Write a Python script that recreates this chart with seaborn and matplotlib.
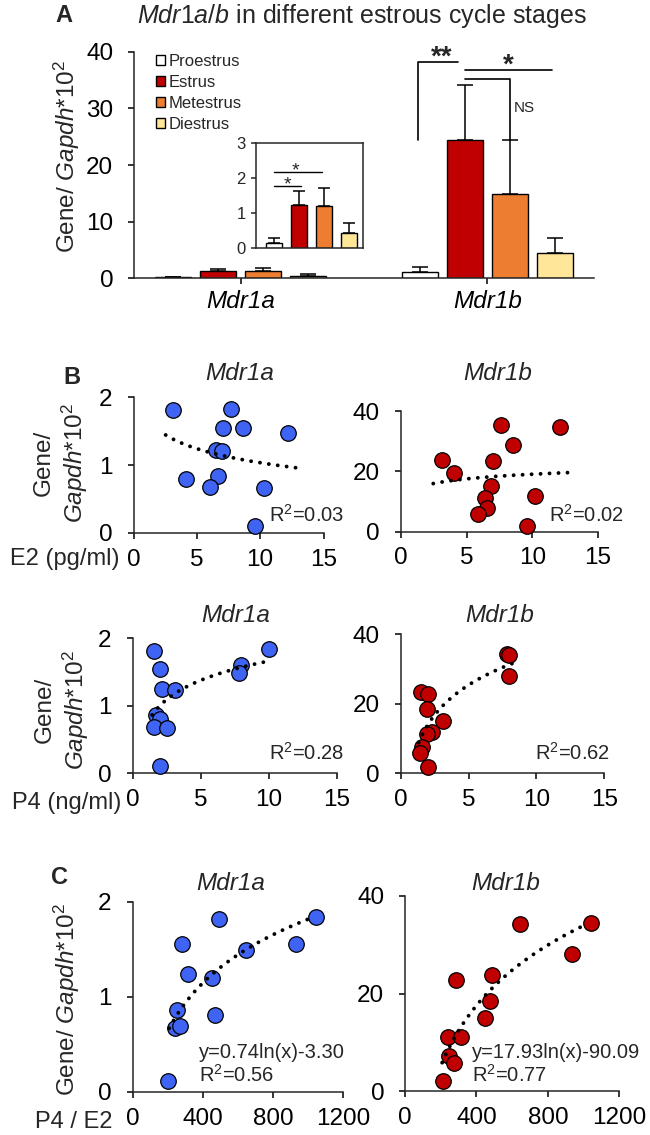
import numpy as np
import pandas as pd
import seaborn as sns
import matplotlib.pyplot as plt
from matplotlib import font_manager
from matplotlib.patches import Patch

# %%
# bar data, panel A (mean and upper SEM)
stages = ["Proestrus", "Estrus", "Metestrus", "Diestrus"]
genes = ["Mdr1a", "Mdr1b"]
stage_colors = ["#FFFFFF", "#C00000", "#ED7D31", "#FFE699"]
mdr1a_mean = [0.16, 1.24, 1.22, 0.45]
mdr1a_sem = [0.13, 0.40, 0.51, 0.28]
mdr1b_mean = [1.06, 24.5, 14.8, 4.5]
mdr1b_sem = [0.9, 9.6, 9.6, 2.7]

# panel B, E2 (pg/ml)
e2_a = [3.13, 7.66, 7.04, 8.67, 12.2, 6.52, 6.95, 4.17, 6.68, 6.06, 10.27, 9.62]
mdr1a_e2 = [1.81, 1.83, 1.54, 1.54, 1.48, 1.22, 1.20, 0.80, 0.84, 0.68, 0.66, 0.10]
e2_b = [3.11, 4.06, 7.61, 12.15, 8.56, 7.0, 6.85, 6.44, 6.53, 5.9, 10.24, 9.57]
mdr1b_e2 = [23.7, 19.3, 35.2, 34.7, 28.6, 23.3, 15.0, 11.2, 7.8, 5.8, 11.9, 1.8]

# panel B, P4 (ng/ml)
p4_a = [1.59, 2.05, 2.2, 3.12, 8.0, 7.8, 10.0, 1.74, 1.99, 1.59, 2.57, 2.05]
mdr1a_p4 = [1.81, 1.54, 1.25, 1.24, 1.60, 1.48, 1.84, 0.86, 0.81, 0.68, 0.67, 0.11]
p4_b = [1.5, 2.0, 1.95, 3.1, 2.3, 1.9, 1.6, 1.4, 2.0, 7.8, 7.95, 8.0]
mdr1b_p4 = [23.5, 22.8, 18.6, 15.1, 12.0, 11.3, 7.6, 5.8, 1.9, 34.4, 34.0, 28.0]

# panel C, P4 / E2
ratio_a = [205, 252, 240, 271, 280, 318, 452, 492, 471, 645, 934, 1047]
mdr1a_ratio = [0.11, 0.86, 0.67, 0.69, 1.55, 1.24, 1.20, 1.82, 0.81, 1.49, 1.56, 1.84]
ratio_b = [212, 242, 316, 249, 272, 284, 450, 478, 489, 642, 935, 1043]
mdr1b_ratio = [2.05, 11.1, 11.1, 7.2, 5.8, 22.8, 14.9, 18.5, 23.7, 34.2, 28.1, 34.5]

# trendline x ranges and labels
trend_e2 = [(2.54, 13.37), (2.47, 13.26)]
trend_p4 = [(1.44, 10.0), (1.32, 8.7)]
trend_ratio = [(209, 998), (208, 1004)]
r2_e2 = ["0.03", "0.02"]
r2_p4 = ["0.28", "0.62"]
r2_ratio = ["0.56", "0.77"]
eq_ratio = ["y=0.74ln(x)-3.30", "y=17.93ln(x)-90.09"]

blue = "#3F63F2"
red = "#C00000"

# %%
def pick_font(names):
    for n in names:
        try:
            font_manager.findfont(font_manager.FontProperties(family=n), fallback_to_default=False)
            return n
        except ValueError:
            pass
    return "DejaVu Sans"

sns.set_style("ticks")
fam = pick_font(["Liberation Sans", "Arial"])
plt.rcParams["font.family"] = [fam, "DejaVu Sans"]
plt.rcParams["mathtext.fontset"] = "custom"
plt.rcParams["mathtext.rm"] = fam
plt.rcParams["mathtext.it"] = fam + ":italic"
plt.rcParams["mathtext.bf"] = fam + ":bold"
plt.rcParams["axes.linewidth"] = 1.1

W, H = 650, 1135
fig = plt.figure(figsize=(6.5, 11.35), dpi=100)

TICK = 17.5
LAB = 17.5
ANN = 14.5


def add_ax(left, right, top, bottom):
    return fig.add_axes([left / W, 1 - bottom / H, (right - left) / W, (bottom - top) / H])


def ftext(x, y, s, **kw):
    kw.setdefault("ha", "center")
    kw.setdefault("va", "center")
    fig.text(x / W, 1 - y / H, s, **kw)


def style_ax(ax):
    sns.despine(ax=ax)
    ax.tick_params(axis="both", direction="out", length=4.5, width=1.1, labelsize=TICK, colors="black")
    ax.tick_params(axis="x", pad=7)
    ax.tick_params(axis="y", pad=10.5)
    ax.set_xlabel("")
    ax.set_ylabel("")


ylab = r"Gene/ $\mathit{Gapdh}$*10$^2$"
ylab2 = "Gene/\n" + r"$\mathit{Gapdh}$*10$^2$"

# %%
# Panel A
axA = add_ax(134.2, 593.8, 51.7, 278.3)
bars = pd.DataFrame({"gene": np.repeat(genes, 4),
                     "stage": stages * 2,
                     "value": mdr1a_mean + mdr1b_mean,
                     "err": mdr1a_sem + mdr1b_sem})
sns.barplot(data=bars, x="gene", y="value", hue="stage", hue_order=stages,
            palette=stage_colors, saturation=1, width=0.73, gap=0.2,
            edgecolor="black", linewidth=1, errorbar=None, legend=False, ax=axA)
for cont, st in zip(axA.containers, stages):
    for bar, g in zip(cont, genes):
        row = bars[(bars["gene"] == g) & (bars["stage"] == st)].iloc[0]
        axA.errorbar(bar.get_x() + bar.get_width() / 2, row["value"], yerr=[[0], [row["err"]]],
                     fmt="none", ecolor="black", elinewidth=1.1, capsize=6, capthick=1.1)
style_ax(axA)
axA.set_ylim(0, 40)
axA.set_yticks([0, 10, 20, 30, 40])
axA.set_xticks([0, 1])
axA.set_xticklabels(genes, style="italic", fontsize=LAB)
axA.tick_params(axis="x", pad=4)

handles = [Patch(facecolor=c, edgecolor="black", linewidth=1) for c in stage_colors]
axA.legend(handles, stages, loc="upper left", bbox_to_anchor=(0.047, 0.99), frameon=False,
           fontsize=12, handlelength=0.55, handleheight=0.55, handletextpad=0.2,
           labelspacing=0.36, borderaxespad=0, borderpad=0)

# significance marks
axA.plot([0.72, 0.72, 0.883], [24.5, 38.2, 38.2], color="black", lw=1.2)
axA.text(0.816, 39.0, "**", ha="center", va="center", fontsize=20, fontweight="bold")
axA.plot([0.91, 1.264], [36.8, 36.8], color="black", lw=1.2)
axA.text(1.083, 37.6, "*", ha="center", va="center", fontsize=20, fontweight="bold")
axA.plot([0.91, 1.092, 1.092], [35.2, 35.2, 24.4], color="black", lw=1.2)
axA.text(1.15, 30.1, "NS", ha="center", va="center", fontsize=11)

# inset with Mdr1a
axI = add_ax(256.3, 362.5, 143.3, 248.3)
sns.barplot(x=stages, y=mdr1a_mean, hue=stages, palette=stage_colors, saturation=1,
            width=0.63, edgecolor="black", linewidth=1, legend=False, ax=axI)
for bar, m, s in zip(axI.patches, mdr1a_mean, mdr1a_sem):
    axI.errorbar(bar.get_x() + bar.get_width() / 2, m, yerr=[[0], [s]],
                 fmt="none", ecolor="black", elinewidth=1.1, capsize=4, capthick=1.1)
axI.set_xlim(-0.70, 3.54)
axI.set_ylim(0, 3)
axI.set_yticks([0, 1, 2, 3])
axI.set_xticks([])
axI.tick_params(axis="y", direction="out", length=3.5, width=1.1, labelsize=12, pad=4)
axI.set_xlabel("")
axI.set_ylabel("")
axI.plot([0, 1.08], [1.78, 1.78], color="black", lw=1)
axI.text(0.55, 1.80, "*", ha="center", va="center", fontsize=14)
axI.plot([0, 1.91], [2.19, 2.19], color="black", lw=1)
axI.text(0.85, 2.22, "*", ha="center", va="center", fontsize=14)

ftext(64, 16, "A", fontsize=17, fontweight="bold")
ftext(362, 16, r"$\mathit{Mdr1a/b}$ in different estrous cycle stages", fontsize=18)
ftext(66.7, 156.5, ylab, rotation=90, fontsize=LAB)


# %%
def scatter_panel(ax, x, y, color, rng, xlim, xticks, ylim, yticks):
    sns.scatterplot(x=x, y=y, color=color, s=125, edgecolor="black", linewidth=0.9,
                    ax=ax, clip_on=False, zorder=3)
    a, b = np.polyfit(np.log(x), y, 1)
    xx = np.linspace(rng[0], rng[1], 200)
    ax.plot(xx, a * np.log(xx) + b, color="black", lw=2.8, linestyle=(0, (0.01, 2.3)),
            dash_capstyle="round", zorder=4)
    ax.set_xlim(*xlim)
    ax.set_xticks(xticks)
    ax.set_ylim(*ylim)
    ax.set_yticks(yticks)
    style_ax(ax)


# Panel B, E2
axB1 = add_ax(133.5, 323.5, 397.3, 532.8)
scatter_panel(axB1, e2_a, mdr1a_e2, blue, trend_e2[0], (0, 15), [0, 5, 10, 15], (0, 2), [0, 1, 2])
axB2 = add_ax(400.8, 597.9, 411, 531.5)
scatter_panel(axB2, e2_b, mdr1b_e2, red, trend_e2[1], (0, 15), [0, 5, 10, 15], (0, 40), [0, 20, 40])
ftext(71.7, 378, "B", fontsize=17, fontweight="bold")
ftext(239.6, 374, "Mdr1a", style="italic", fontsize=LAB)
ftext(498, 374, "Mdr1b", style="italic", fontsize=LAB)
ftext(61.5, 463, ylab2, rotation=90, fontsize=LAB)
ftext(120, 559, "E2 (pg/ml)", ha="right", fontsize=17)
ftext(343.7, 515, "R$^2$=" + r2_e2[0], ha="right", fontsize=ANN)
ftext(624, 515, "R$^2$=" + r2_e2[1], ha="right", fontsize=ANN)

# Panel B, P4
axB3 = add_ax(132.5, 336.7, 638.3, 773.3)
scatter_panel(axB3, p4_a, mdr1a_p4, blue, trend_p4[0], (0, 15), [0, 5, 10, 15], (0, 2), [0, 1, 2])
axB4 = add_ax(400.8, 604.2, 634.3, 773.3)
scatter_panel(axB4, p4_b, mdr1b_p4, red, trend_p4[1], (0, 15), [0, 5, 10, 15], (0, 40), [0, 20, 40])
ftext(235.4, 615, "Mdr1a", style="italic", fontsize=LAB)
ftext(500, 615, "Mdr1b", style="italic", fontsize=LAB)
ftext(62.5, 710, ylab2, rotation=90, fontsize=LAB)
ftext(121, 803, "P4 (ng/ml)", ha="right", fontsize=17)
ftext(343.7, 753, "R$^2$=" + r2_p4[0], ha="right", fontsize=ANN)
ftext(610, 753, "R$^2$=" + r2_p4[1], ha="right", fontsize=ANN)

# Panel C, P4/E2
axC1 = add_ax(132.5, 343, 901.7, 1091.7)
scatter_panel(axC1, ratio_a, mdr1a_ratio, blue, trend_ratio[0], (0, 1200), [0, 400, 800, 1200], (0, 2), [0, 1, 2])
axC2 = add_ax(405, 619.3, 896, 1091)
scatter_panel(axC2, ratio_b, mdr1b_ratio, red, trend_ratio[1], (0, 1200), [0, 400, 800, 1200], (0, 40), [0, 20, 40])
ftext(60, 877, "C", fontsize=17, fontweight="bold")
ftext(231, 883, "Mdr1a", style="italic", fontsize=LAB)
ftext(506, 883, "Mdr1b", style="italic", fontsize=LAB)
ftext(66.7, 1000, ylab, rotation=90, fontsize=LAB)
ftext(112.5, 1122, "P4 / E2", ha="right", fontsize=17)
for xl, eq, r2 in zip([199, 472], eq_ratio, r2_ratio):
    ftext(xl, 1052.7, eq, ha="left", fontsize=ANN)
    ftext(xl, 1075, "R$^2$=" + r2, ha="left", fontsize=ANN)

plt.savefig("out.png", dpi=100)
